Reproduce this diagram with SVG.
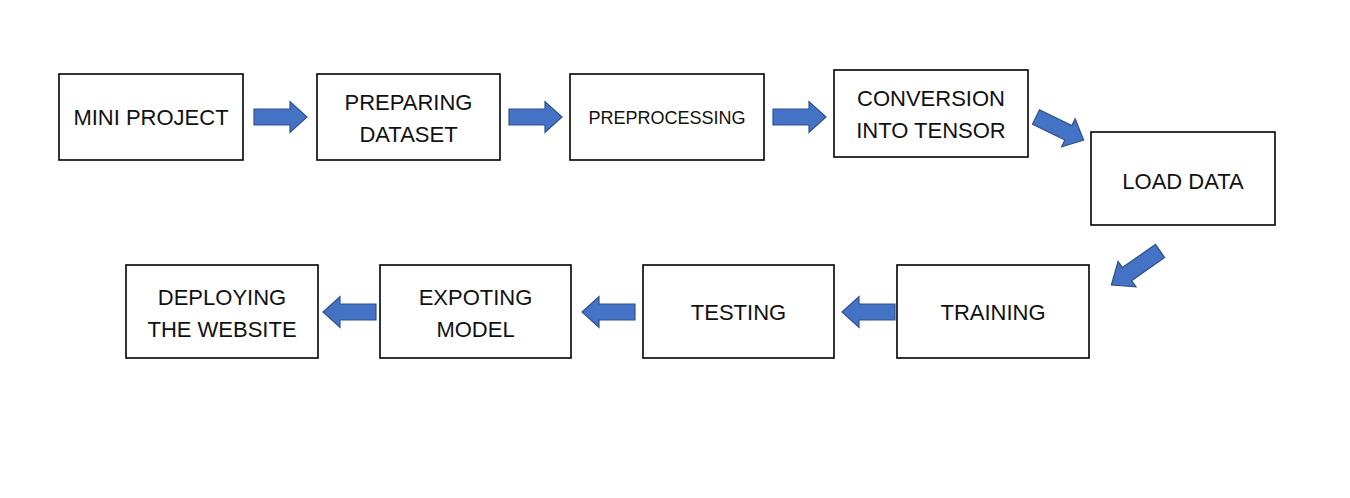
<svg xmlns="http://www.w3.org/2000/svg" xmlns:xlink="http://www.w3.org/1999/xlink" width="1350" height="498" viewBox="0 0 1350 498">
<style>
.box{fill:#fff;stroke:#000;stroke-width:1.6}
.t{font-family:"Liberation Sans",Arial,sans-serif;font-size:22px;fill:#111;text-anchor:middle}
.s{font-size:18px}
.arr{fill:#4472C4;stroke:#2F528F;stroke-width:1.2;stroke-linejoin:miter}
</style>
<defs>
<path id="ar" d="M0,-8 H36 V-15.5 L53,0 L36,15.5 V8 H0 Z"/>
</defs>
<rect width="1350" height="498" fill="#fff"/>
<g id="connectors">
<use xlink:href="#ar" class="arr" transform="translate(254,117)"/>
<use xlink:href="#ar" class="arr" transform="translate(509,117)"/>
<use xlink:href="#ar" class="arr" transform="translate(773,117)"/>
<use xlink:href="#ar" class="arr" transform="translate(1036,117) rotate(26)"/>
<use xlink:href="#ar" class="arr" transform="translate(1160,251) rotate(145) scale(1.12,1)"/>
<use xlink:href="#ar" class="arr" transform="translate(895,312) rotate(180)"/>
<use xlink:href="#ar" class="arr" transform="translate(635,312) rotate(180)"/>
<use xlink:href="#ar" class="arr" transform="translate(376,312) rotate(180)"/>
</g>
<g id="n1"><rect class="box" x="59" y="74" width="184" height="86"/><text class="t" x="151" y="125">MINI PROJECT</text></g>
<g id="n2"><rect class="box" x="317" y="74" width="183" height="86"/><text class="t" x="408.5" y="110">PREPARING</text><text class="t" x="408.5" y="142">DATASET</text></g>
<g id="n3"><rect class="box" x="570" y="74" width="194" height="86"/><text class="t s" x="667" y="124">PREPROCESSING</text></g>
<g id="n4"><rect class="box" x="834" y="70" width="194" height="87"/><text class="t" x="931" y="106">CONVERSION</text><text class="t" x="931" y="138">INTO TENSOR</text></g>
<g id="n5"><rect class="box" x="1091" y="132" width="184" height="93"/><text class="t" x="1183" y="189">LOAD DATA</text></g>
<g id="n6"><rect class="box" x="897" y="265" width="192" height="93"/><text class="t" x="993" y="320">TRAINING</text></g>
<g id="n7"><rect class="box" x="643" y="265" width="191" height="93"/><text class="t" x="738.5" y="320">TESTING</text></g>
<g id="n8"><rect class="box" x="380" y="265" width="191" height="93"/><text class="t" x="475.5" y="305">EXPOTING</text><text class="t" x="475.5" y="337">MODEL</text></g>
<g id="n9"><rect class="box" x="126" y="265" width="192" height="93"/><text class="t" x="222" y="305">DEPLOYING</text><text class="t" x="222" y="337">THE WEBSITE</text></g>
</svg>
